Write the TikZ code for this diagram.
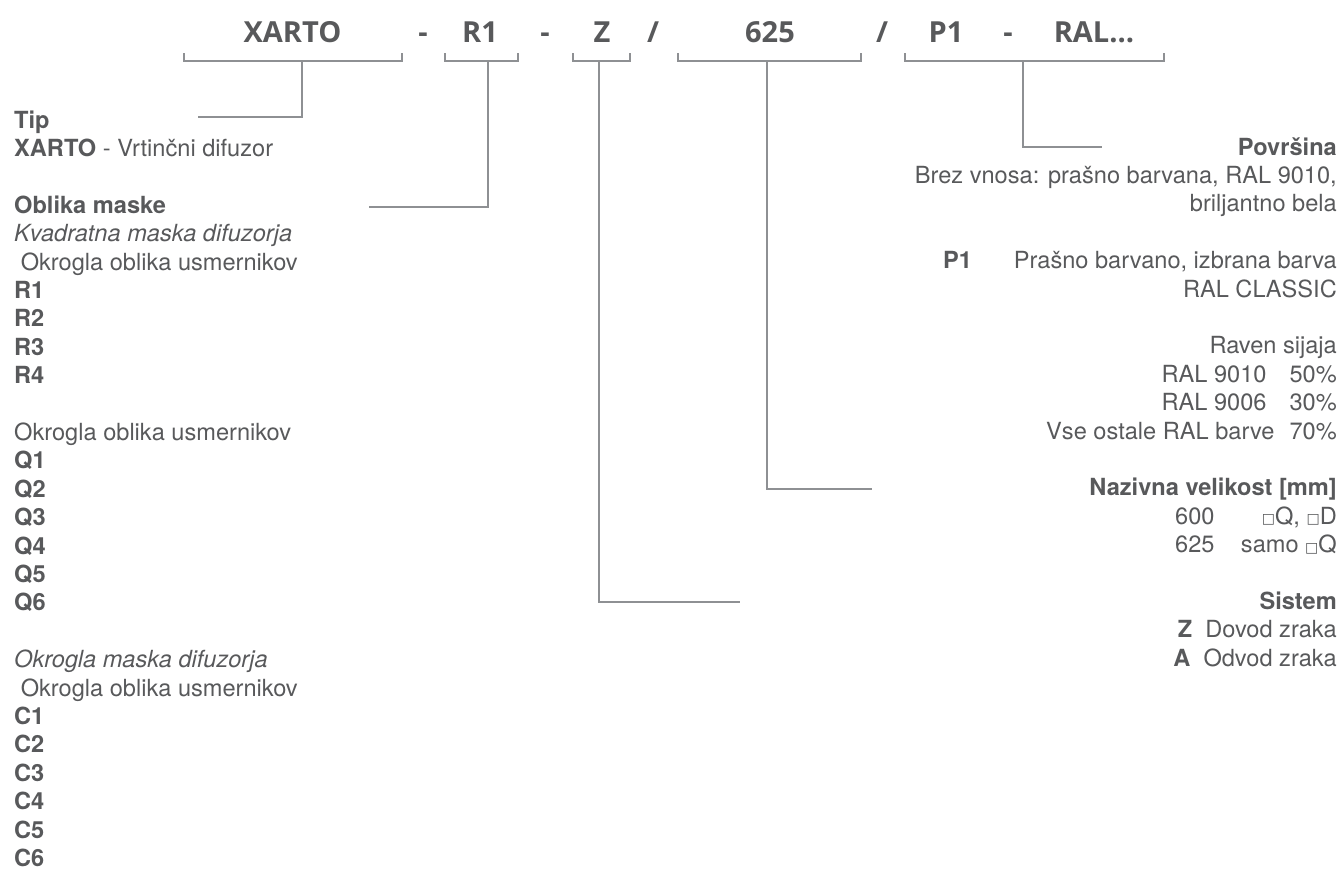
\documentclass[tikz,border=0pt]{standalone}
\usepackage{fontspec}
\setmainfont{TeX Gyre Heros}
\newfontfamily\codefont{Open Sans}
\newfontfamily\symfont{DejaVu Sans}
\usepackage{xcolor}
\usepackage{tikz}
\usetikzlibrary{positioning}

\definecolor{textgrey}{HTML}{58595B}
\definecolor{linegrey}{HTML}{8E9093}
\newcommand{\sqmark}{{\symfont\fontsize{14}{14}\selectfont\raisebox{0.5pt}{□}}}

\begin{document}
\begin{tikzpicture}[x=1pt, y=-1pt,
  code/.style={font=\codefont\bfseries\fontsize{29}{30}\selectfont, text=textgrey, inner sep=0pt, anchor=base},
  span/.style={minimum height=8pt, inner sep=0pt, outer sep=0pt},
  brace/.style={draw=linegrey, line width=1.1pt},
  lead/.style={draw=linegrey, line width=1.1pt},
  txt/.style={font=\fontsize{23.6}{28.4}\selectfont, text=textgrey, inner sep=0pt},
  lft/.style={txt, anchor=base west},
  rgt/.style={txt, anchor=base east}
]
\useasboundingbox (0,0) rectangle (1343,876);

% Type code
\node[code] (cX) at (292.5,42) {XARTO};
\node[code] (d1) at (423,42) {-};
\node[code] (cR) at (480,42) {R1};
\node[code] (d2) at (545,42) {-};
\node[code] (cZ) at (602,42) {Z};
\node[code] (s1) at (653,42) {/};
\node[code] (cN) at (770,42) {625};
\node[code] (s2) at (882,42) {/};
\node[code] (cP) at (946,42) {P1};
\node[code] (d3) at (1008,42) {-};
\node[code] (cL) at (1094,42) {RAL...};

% Brackets
\node[span, minimum width=218pt] (sX) at (293,57) {};
\node[span, minimum width=73pt] (sR) at (481.5,57) {};
\node[span, minimum width=57pt] (sZ) at (601.5,57) {};
\node[span, minimum width=183pt] (sN) at (769.5,57) {};
\node[span, minimum width=259pt] (sP) at (1034.5,57) {};
\foreach \s in {sX,sR,sZ,sN,sP}
  \draw[brace] (\s.north west) |- (\s.south) -| (\s.north east);

% Leaders
\coordinate (eX) at (198,117);
\coordinate (eR) at (369,207);
\coordinate (eZ) at (740,602);
\coordinate (eN) at (872,489);
\coordinate (eP) at (1102,147);
\draw[lead] ([xshift=9pt]sX.south) |- (eX);
\draw[lead] ([xshift=6.5pt]sR.south) |- (eR);
\draw[lead] ([xshift=-2.5pt]sZ.south) |- (eZ);
\draw[lead] ([xshift=-2.5pt]sN.south) |- (eN);
\draw[lead] ([xshift=-11.5pt]sP.south) |- (eP);

% Left column
\foreach \i/\t in {0/{\textbf{Tip}}, 1/{\textbf{XARTO} - Vrtinčni difuzor},
  3/{\textbf{Oblika maske}}, 4/{\textit{Kvadratna maska difuzorja}},
  5/{\ Okrogla oblika usmernikov}, 6/{\textbf{R1}}, 7/{\textbf{R2}}, 8/{\textbf{R3}}, 9/{\textbf{R4}},
  11/{Okrogla oblika usmernikov}, 12/{\textbf{Q1}}, 13/{\textbf{Q2}}, 14/{\textbf{Q3}},
  15/{\textbf{Q4}}, 16/{\textbf{Q5}}, 17/{\textbf{Q6}},
  19/{\textit{Okrogla maska difuzorja}}, 20/{\ Okrogla oblika usmernikov},
  21/{\textbf{C1}}, 22/{\textbf{C2}}, 23/{\textbf{C3}}, 24/{\textbf{C4}}, 25/{\textbf{C5}}, 26/{\textbf{C6}}}
  \node[lft] (l\i) at (14,{128+28.4*\i}) {\t};

% Right column
\foreach \i/\t in {0/{\textbf{Površina}}, 1/{Brez vnosa: prašno barvana, RAL 9010,},
  2/{briljantno bela}, 4/{\textbf{P1}\hspace{42pt}Prašno barvano, izbrana barva},
  5/{RAL CLASSIC}, 7/{Raven sijaja}, 8/{RAL 9010\hspace{23pt}50\%},
  9/{RAL 9006\hspace{23pt}30\%}, 10/{Vse ostale RAL barve\hspace{15pt}70\%},
  12/{\textbf{Nazivna velikost [mm]}}, 16/{\textbf{Sistem}},
  17/{\textbf{Z}\ \ Dovod zraka}, 18/{\textbf{A}\ \ Odvod zraka}}
  \node[rgt] (r\i) at (1337,{155+28.4*\i}) {\t};
\node[lft] (r13a) at (1175,524.2) {600};
\node[rgt] (r13b) at (1337,524.2) {\sqmark Q, \sqmark D};
\node[lft] (r14a) at (1175,552.6) {625};
\node[rgt] (r14b) at (1337,552.6) {samo \sqmark Q};

\end{tikzpicture}
\end{document}
